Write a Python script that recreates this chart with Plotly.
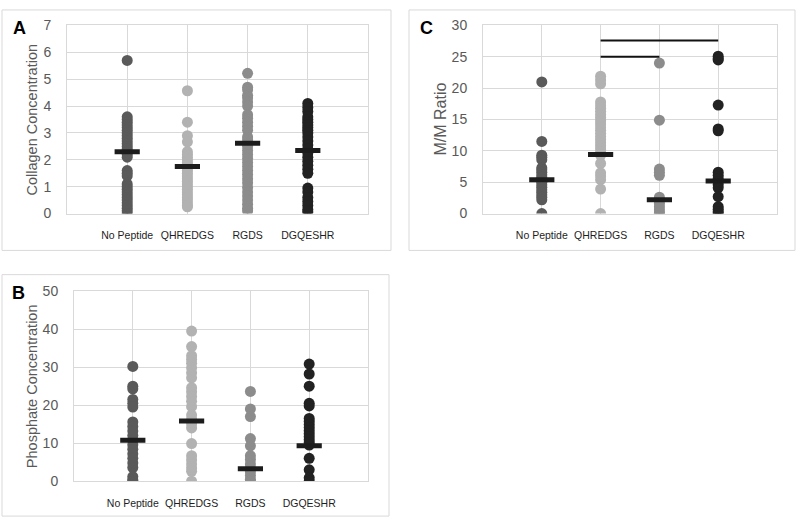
import plotly.graph_objects as go

W, H = 800, 527

categories = ["No Peptide", "QHREDGS", "RGDS", "DGQESHR"]
cat_pos = [1, 2, 3, 4]
colors = ["#5a5a5a", "#b2b2b2", "#8c8c8c", "#222222"]

# Panel A: Collagen Concentration
collagen_np = [5.7, 3.6, 3.5, 3.4, 3.3, 3.2, 3.1, 3.0, 2.9, 2.8, 2.7, 2.6, 2.5, 2.4, 2.3, 2.2, 2.1,
               1.6, 1.5, 1.4, 1.1, 1.0, 0.9, 0.8, 0.7, 0.6, 0.5, 0.4, 0.3, 0.2, 0.1, 0.0]
collagen_q = [4.57, 3.4, 2.9, 2.67, 2.3, 2.2, 2.1, 2.0, 1.9, 1.8, 1.7, 1.6, 1.5, 1.4, 1.3, 1.2, 1.1,
              1.0, 0.9, 0.8, 0.7, 0.6, 0.5, 0.4, 0.3, 0.25]
collagen_r = [5.22, 4.7, 4.6, 4.4, 4.3, 4.15, 4.0, 3.68, 3.55, 3.4, 3.25, 3.1, 2.85, 2.75, 2.6, 2.5,
              2.35, 2.2, 2.05, 1.9, 1.75, 1.6, 1.45, 1.3, 1.15, 0.97, 0.8, 0.65, 0.5, 0.35, 0.2, 0.1]
collagen_d = [4.1, 3.95, 3.8, 3.6, 3.5, 3.4, 3.3, 3.2, 3.1, 3.0, 2.85, 2.7, 2.55, 2.4, 2.25, 2.1,
              1.95, 1.8, 1.65, 1.5, 0.95, 0.8, 0.6, 0.45, 0.3, 0.15, 0.07]
collagen_means = [2.3, 1.75, 2.62, 2.35]

# Panel C: M/M Ratio
mm_np = [21.0, 11.5, 9.3, 9.0, 8.6, 7.3, 7.0, 6.6, 6.2, 5.8, 5.4, 5.0, 4.6, 4.2, 3.8, 3.4, 3.0,
         2.6, 2.2, 0.0]
mm_q = [21.9, 21.3, 20.7, 17.8, 17.3, 16.8, 16.3, 15.8, 15.3, 14.8, 14.3, 13.8, 13.3, 12.8, 12.3,
        11.8, 11.3, 10.8, 10.3, 9.8, 9.3, 8.0, 6.5, 6.0, 5.4, 3.9, 0.0]
mm_r = [24.0, 14.9, 7.1, 6.6, 6.1, 2.6, 2.1, 1.6, 1.1, 0.6, 0.1, 0.0]
mm_d = [25.1, 24.7, 24.5, 17.3, 13.5, 13.2, 6.6, 6.1, 5.6, 5.1, 4.6, 4.1, 2.7, 1.1, 0.7, 0.3, 0.0]
mm_means = [5.4, 9.4, 2.2, 5.2]
sig_low_x = [2, 3]
sig_low_y = [25.0, 25.0]
sig_high_x = [2, 4]
sig_high_y = [27.6, 27.6]

# Panel B: Phosphate Concentration
phos_np = [30.2, 25.0, 24.3, 21.5, 20.5, 19.5, 15.6, 14.4, 13.2, 12.0, 10.8, 9.6, 8.4, 7.2, 6.0,
           4.8, 3.6, 1.2, 0.4, 0.0]
phos_q = [39.5, 35.4, 33.0, 32.0, 31.0, 29.8, 28.5, 27.2, 24.6, 23.5, 22.3, 21.0, 19.6, 17.4, 16.3,
          15.1, 14.0, 9.9, 6.7, 5.6, 4.5, 3.5, 2.6, 0.0]
phos_r = [23.6, 19.0, 17.0, 11.2, 9.3, 6.7, 5.7, 4.5, 3.5, 2.5, 1.5, 0.5, 0.0]
phos_d = [30.8, 28.2, 25.0, 20.5, 19.8, 16.5, 15.7, 14.9, 14.1, 13.3, 12.5, 11.7, 10.9, 10.2, 9.5,
          6.0, 3.0, 0.9, 0.0]
phos_means = [10.8, 15.8, 3.3, 9.3]

panels = [
    dict(key="A", xa="x", ya="y", series=[collagen_np, collagen_q, collagen_r, collagen_d],
         means=collagen_means, ymax=7, dtick=1, title="Collagen Concentration",
         px=(67, 368), py=(18, 212), box=(2, 391, 2, 250), letter=(19, 21), title_x=32, tsize=14.5),
    dict(key="C", xa="x2", ya="y2", series=[mm_np, mm_q, mm_r, mm_d],
         means=mm_means, ymax=30, dtick=5, title="M/M Ratio",
         px=(483, 777), py=(18, 212), box=(409, 795, 2, 250), letter=(427, 21), title_x=441, tsize=16),
    dict(key="B", xa="x3", ya="y3", series=[phos_np, phos_q, phos_r, phos_d],
         means=phos_means, ymax=50, dtick=10, title="Phosphate Concentration",
         px=(74, 368), py=(292, 488), box=(2, 389, 275, 524), letter=(18, 294), title_x=32, tsize=14.5),
]

fig = go.Figure()
shapes = []
annotations = []
layout = {}
for i, p in enumerate(panels):
    for ci, vals in enumerate(p["series"]):
        fig.add_trace(go.Scatter(
            x=[cat_pos[ci]] * len(vals), y=vals, mode="markers",
            marker=dict(size=11, color=colors[ci], line=dict(width=0)),
            xaxis=p["xa"], yaxis=p["ya"], showlegend=False, hoverinfo="y"))
    fig.add_trace(go.Scatter(
        x=cat_pos, y=p["means"], mode="markers",
        marker=dict(symbol="line-ew", size=18, line=dict(width=5, color="#1c1c1c")),
        xaxis=p["xa"], yaxis=p["ya"], showlegend=False))
    sfx = "" if i == 0 else str(i + 1)
    layout["xaxis" + sfx] = dict(
        domain=[p["px"][0] / W, p["px"][1] / W], range=[0, 5],
        tickvals=cat_pos, ticktext=categories, showgrid=True, gridcolor="#d9d9d9",
        showline=True, mirror=True, linecolor="#d9d9d9", zeroline=False, ticks="",
        tickangle=0, ticklabelstandoff=12,
        tickfont=dict(family="Liberation Sans, Arial", size=10.5, color="#1e1e1e"),
        anchor=p["ya"], fixedrange=True)
    layout["yaxis" + sfx] = dict(
        domain=[1 - p["py"][1] / H, 1 - p["py"][0] / H], range=[0, p["ymax"]], dtick=p["dtick"],
        showgrid=True, gridcolor="#d9d9d9", showline=True, mirror=True, linecolor="#d9d9d9",
        zeroline=False, ticks="", ticklabelstandoff=12,
        tickfont=dict(family="Liberation Sans, Arial", size=14, color="#595959"),
        anchor=p["xa"], fixedrange=True)
    bx0, bx1, by0, by1 = p["box"]
    shapes.append(dict(type="rect", xref="paper", yref="paper", x0=bx0 / W, x1=bx1 / W,
                       y0=1 - by1 / H, y1=1 - by0 / H, line=dict(color="#d9d9d9", width=1)))
    annotations.append(dict(text="<b>" + p["key"] + "</b>", xref="paper", yref="paper",
                            x=p["letter"][0] / W, y=1 - p["letter"][1] / H, showarrow=False,
                            xanchor="center", yanchor="middle",
                            font=dict(family="Liberation Sans, Arial", size=18, color="#000000")))
    annotations.append(dict(text=p["title"], xref="paper", yref="paper", textangle=-90,
                            x=p["title_x"] / W, y=1 - (p["py"][0] + p["py"][1]) / 2 / H,
                            showarrow=False, xanchor="center", yanchor="middle",
                            font=dict(family="Liberation Sans, Arial", size=p["tsize"], color="#595959")))

for sx, sy in [(sig_low_x, sig_low_y), (sig_high_x, sig_high_y)]:
    fig.add_trace(go.Scatter(x=sx, y=sy, mode="lines", line=dict(color="#111111", width=2),
                             xaxis="x2", yaxis="y2", showlegend=False, hoverinfo="skip"))

fig.update_layout(width=W, height=H, margin=dict(l=0, r=0, t=0, b=0),
                  paper_bgcolor="white", plot_bgcolor="white",
                  shapes=shapes, annotations=annotations, **layout)
fig.write_html("out.html", config={"displayModeBar": False},
               post_script="document.body.style.margin='0';document.body.style.overflow='hidden';")
